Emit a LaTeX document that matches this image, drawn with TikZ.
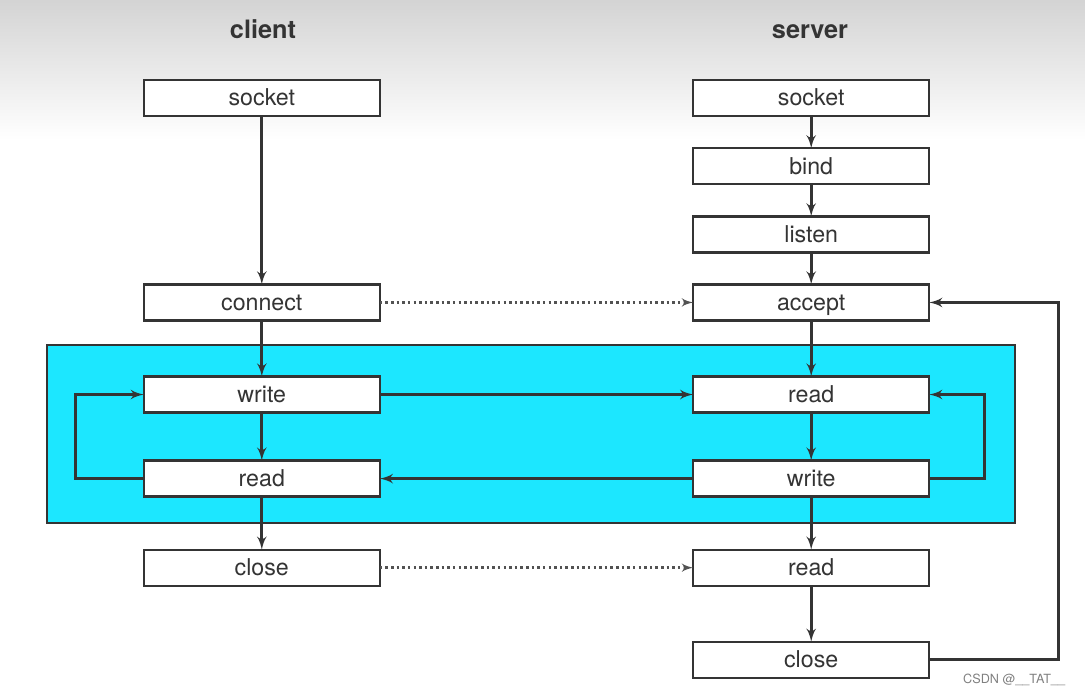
\documentclass[tikz,border=0pt]{standalone}
\usepackage{fontspec}
\setmainfont{TeX Gyre Heros}
\usetikzlibrary{shapes,arrows}
\definecolor{loopcyan}{RGB}{28,231,255}
\definecolor{edgegray}{RGB}{52,52,52}

\begin{document}
\begin{tikzpicture}[x=0.025cm, y=-0.025cm,
    block/.style ={rectangle, draw=edgegray, line width=1.6pt, fill=white,
      minimum width=5.9cm, minimum height=0.9cm, inner sep=0pt, outer sep=0pt,
      text height=11pt, text depth=0pt,
      text=edgegray, font=\fontsize{16.5}{18}\selectfont},
    title/.style ={anchor=base, text=edgegray, font=\bfseries\fontsize{18}{20}\selectfont},
    line/.style ={draw=edgegray, line width=2.2pt, -latex'},
    link/.style ={draw=edgegray!85, line width=1.8pt, dash pattern=on 1.8pt off 2.2pt}]
    % page, header shading and the loop area
    \useasboundingbox (0,0) rectangle (1085,695);
    \shade [top color=black!17, bottom color=white] (0,0) rectangle (1085,140);
    \filldraw [fill=loopcyan, draw=edgegray, line width=1.6pt] (47,345) rectangle (1015,523);
    % column titles
    \node [title] (clientT) at (263,39) {client};
    \node [title] (serverT) at (810,39) {server};
    % the two columns of calls
    \matrix [column sep=7.775cm, row sep=0.745cm] at (536.5,379) {
      % row 1
      \node [block] (csocket) {socket};
      & \node [block] (ssocket) {socket}; \\
      % row 2
      & \node [block] (sbind) {bind}; \\
      % row 3
      & \node [block] (slisten) {listen}; \\
      % row 4
      \node [block] (cconnect) {connect};
      & \node [block] (saccept) {accept}; \\[0.6cm]
      % row 5
      \node [block] (cwrite) {write};
      & \node [block] (sread) {read}; \\[0.4cm]
      % row 6
      \node [block] (cread) {read};
      & \node [block] (swrite) {write}; \\[0.525cm]
      % row 7
      \node [block] (cclose) {close};
      & \node [block] (sreadend) {read}; \\[0.6cm]
      % row 8
      & \node [block] (sclose) {close}; \\
    };% end matrix
    % connecting nodes with paths
    \begin{scope}[every path/.style=line]
      % client side
      \path (csocket) -- (cconnect);
      \path (cconnect) -- (cwrite);
      \path (cwrite) -- (cread);
      \path (cread) -- (cclose);
      \path (cread.west) -- ++(-68,0) |- (cwrite.west);
      % server side
      \path (ssocket) -- (sbind);
      \path (sbind) -- (slisten);
      \path (slisten) -- (saccept);
      \path (saccept) -- (sread);
      \path (sread) -- (swrite);
      \path (swrite) -- (sreadend);
      \path (sreadend) -- (sclose);
      \path (swrite.east) -- ++(55,0) |- (sread.east);
      \path (sclose.east) -- ++(129,0) |- (saccept.east);
      % data between the two sides
      \path (cwrite) -- (sread);
      \path (swrite) -- (cread);
      % connection set up and shut down
      \path [link] (cconnect) -- (saccept);
      \path [link] (cclose) -- (sreadend);
    \end{scope}
    \node [anchor=east, text=black!50, font=\fontsize{9}{10}\selectfont] (mark) at (1070,680) {CSDN @\_\_TAT\_\_};
  \end{tikzpicture}
\end{document}
